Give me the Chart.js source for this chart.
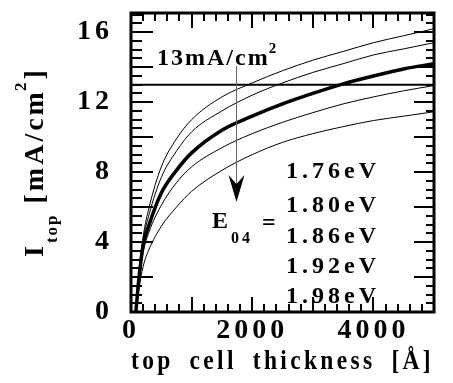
<!DOCTYPE html>
<html lang="en">
<head>
  <meta charset="UTF-8" />
  <title>I_top vs top cell thickness</title>
  <script src="https://cdn.jsdelivr.net/npm/chart.js"></script>
  <style>
    html, body { margin: 0; padding: 0; background: #fff; }
    #chart { display: block; }
  </style>
</head>
<body>
  <canvas id="chart" width="453" height="383"></canvas>

  <script>
    // top cell thickness [Å]
    const thickness = [80, 130, 200, 300, 500, 750, 1000, 1500, 2000, 2500, 3000, 3500, 4000, 4500, 5000];
    // I_top [mA/cm2] for each E04
    const j176 = [0, 2.2, 4.3, 6.0, 8.3, 9.9, 11.0, 12.3, 13.1, 13.8, 14.4, 14.9, 15.4, 15.8, 16.2];
    const j180 = [0, 2.1, 4.1, 5.6, 7.7, 9.2, 10.3, 11.5, 12.4, 13.1, 13.7, 14.2, 14.7, 15.05, 15.4];
    const j186 = [0, 1.9, 3.8, 5.0, 6.8, 8.1, 9.1, 10.4, 11.2, 11.9, 12.5, 13.05, 13.5, 13.9, 14.2];
    const j192 = [0, 1.7, 3.4, 4.6, 6.1, 7.4, 8.3, 9.4, 10.2, 10.85, 11.4, 11.9, 12.3, 12.65, 12.95];
    const j198 = [0, 1.3, 2.6, 3.6, 4.9, 6.0, 6.9, 8.1, 9.0, 9.7, 10.2, 10.6, 10.95, 11.2, 11.45];
    const e04Labels = ['1.76eV', '1.80eV', '1.86eV', '1.92eV', '1.98eV'];
    const targetCurrent = 13;
    const xTicks = [0, 2000, 4000];
    const yTicks = [0, 4, 8, 12, 16];

    const SERIF = '"Liberation Serif", "Times New Roman", serif';

    function pts(ys) {
      return thickness.map((x, i) => ({ x: x, y: ys[i] }));
    }

    function txt(ctx, s, x, y, size, spacing, align) {
      ctx.font = 'bold ' + size + 'px ' + SERIF;
      ctx.letterSpacing = (spacing || 0) + 'px';
      ctx.textAlign = align || 'left';
      ctx.textBaseline = 'alphabetic';
      ctx.fillText(s, x, y);
      return ctx.measureText(s).width;
    }

    const spacing = {
      id: 'spacing',
      beforeDraw(chart) {
        chart.ctx.letterSpacing = '4px';
        chart.ctx.wordSpacing = '8px';
      }
    };

    // frame, inward ticks, annotations
    const decor = {
      id: 'decor',
      afterDraw(chart) {
        const ctx = chart.ctx;
        const xs = chart.scales.x, ys = chart.scales.y;
        const a = chart.chartArea;
        ctx.save();
        ctx.wordSpacing = '0px';
        ctx.strokeStyle = '#000';
        ctx.fillStyle = '#000';

        // ticks
        ctx.lineWidth = 2;
        ctx.beginPath();
        for (let v = 0; v <= 5000; v += 200) {
          const px = Math.round(xs.getPixelForValue(v));
          const len = v % 1000 === 0 ? 15 : 8;
          ctx.moveTo(px, a.bottom); ctx.lineTo(px, a.bottom - len);
          ctx.moveTo(px, a.top); ctx.lineTo(px, a.top + len);
        }
        for (let v = 0; v <= 17; v += 0.5) {
          const py = Math.round(ys.getPixelForValue(v));
          const major = v % 2 === 0;
          ctx.moveTo(a.left, py); ctx.lineTo(a.left + (major ? 22 : 11), py);
          ctx.moveTo(a.right, py); ctx.lineTo(a.right - (major ? 20 : 8), py);
        }
        ctx.stroke();

        // frame
        ctx.lineWidth = 3;
        ctx.strokeRect(a.left, a.top, a.right - a.left, a.bottom - a.top);

        // arrow
        ctx.strokeStyle = '#666';
        ctx.lineWidth = 1;
        ctx.beginPath();
        ctx.moveTo(236.5, 66); ctx.lineTo(236.5, 190);
        ctx.stroke();
        ctx.beginPath();
        ctx.moveTo(236.5, 202);
        ctx.lineTo(228.5, 175);
        ctx.lineTo(236.5, 184);
        ctx.lineTo(244.5, 175);
        ctx.closePath();
        ctx.fill();

        // 13 mA/cm2 label
        const w = txt(ctx, '13mA/cm', 157, 65, 24, 2);
        txt(ctx, '2', 157 + w - 1, 53, 15, 0);

        // E04 labels
        const base = [178, 212, 243, 273, 303];
        e04Labels.forEach((s, i) => txt(ctx, s, 286, base[i], 24, 4));
        txt(ctx, 'E', 212, 228, 24, 0);
        txt(ctx, '04', 231, 243, 16, 3);
        txt(ctx, '=', 262, 230, 24, 0);

        // y title
        ctx.translate(43, 257);
        ctx.rotate(-Math.PI / 2);
        let x = 0;
        x += txt(ctx, 'I', x, 0, 28, 3);
        x += txt(ctx, 'top', x, 14, 17, 2);
        x += txt(ctx, ' [mA/cm', x, 0, 28, 3);
        x += txt(ctx, '2', x - 2, -17, 17, 0);
        txt(ctx, ']', x + 1, 0, 28, 0);
        ctx.restore();
      }
    };

    const curve = (ys, bw) => ({
      data: pts(ys),
      borderColor: '#000',
      borderWidth: bw,
      pointRadius: 0,
      fill: false,
      cubicInterpolationMode: 'monotone'
    });

    new Chart(document.getElementById('chart'), {
      type: 'line',
      data: {
        datasets: [
          curve(j176, 1),
          curve(j180, 1),
          curve(j186, 3.5),
          curve(j192, 1),
          curve(j198, 1),
          {
            data: [{ x: 0, y: targetCurrent }, { x: 5000, y: targetCurrent }],
            borderColor: '#000',
            borderWidth: 2,
            pointRadius: 0
          }
        ]
      },
      options: {
        responsive: false,
        animation: false,
        events: [],
        layout: { padding: { top: 13, right: 19, left: 0, bottom: 0 } },
        plugins: { legend: { display: false }, tooltip: { enabled: false } },
        scales: {
          x: {
            type: 'linear',
            min: 0,
            max: 5000,
            afterFit: s => { s.height = 71; s.paddingLeft = 0; s.paddingRight = 0; },
            afterBuildTicks: s => { s.ticks = xTicks.map(v => ({ value: v })); },
            grid: { display: false, drawTicks: false },
            border: { display: false },
            ticks: {
              color: '#000',
              padding: 2,
              maxRotation: 0,
              callback: v => String(v),
              font: { family: SERIF, size: 28, weight: 'bold' }
            },
            title: {
              display: true,
              text: 'top cell thickness [Å]',
              color: '#000',
              padding: { top: 0, bottom: 4 },
              font: { family: SERIF, size: 28, weight: 'bold' }
            }
          },
          y: {
            type: 'linear',
            min: 0,
            max: 17.1,
            afterFit: s => { s.width = 131; s.paddingTop = 0; s.paddingBottom = 0; },
            afterBuildTicks: s => { s.ticks = yTicks.map(v => ({ value: v })); },
            grid: { display: false, drawTicks: false },
            border: { display: false },
            ticks: {
              color: '#000',
              padding: 18,
              callback: v => String(v),
              font: { family: SERIF, size: 28, weight: 'bold' }
            }
          }
        }
      },
      plugins: [spacing, decor]
    });
  </script>
</body>
</html>
